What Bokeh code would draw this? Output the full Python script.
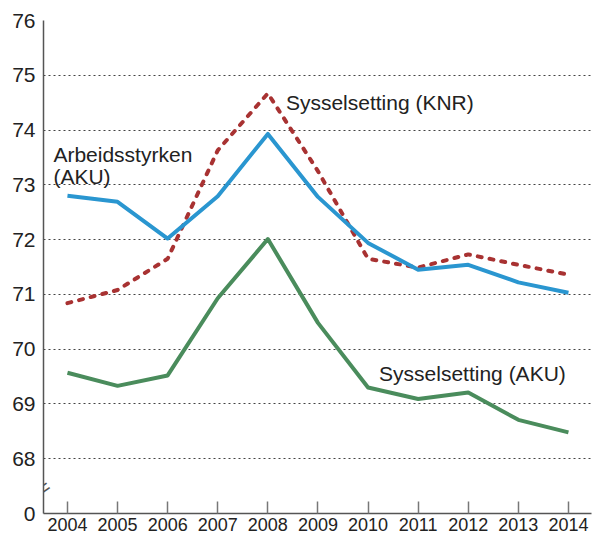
from bokeh.plotting import figure
from bokeh.models import Range1d, FixedTicker, Label
from bokeh.embed import file_html
from bokeh.resources import INLINE

years = [2004, 2005, 2006, 2007, 2008, 2009, 2010, 2011, 2012, 2013, 2014]
arbeidsstyrken_aku = [72.80, 72.69, 72.02, 72.79, 73.93, 72.78, 71.94, 71.45, 71.54, 71.22, 71.03]
sysselsetting_knr = [70.84, 71.08, 71.65, 73.63, 74.67, 73.25, 71.65, 71.49, 71.73, 71.54, 71.36]
sysselsetting_aku = [69.57, 69.33, 69.52, 70.93, 72.01, 70.48, 69.30, 69.09, 69.21, 68.71, 68.48]
y_ticks = [67, 68, 69, 70, 71, 72, 73, 74, 75, 76]
y_tick_labels = {67: "0"}

FONT = "Liberation Sans"
TXT = "#222222"

p = figure(width=592, height=542, output_backend="svg", toolbar_location=None,
           x_range=Range1d(2003.522, 2014.46), y_range=Range1d(67, 76),
           min_border_left=43, min_border_right=1, min_border_top=20, min_border_bottom=29)
p.outline_line_color = None
p.background_fill_color = "white"
p.border_fill_color = "white"

# axes
p.xaxis.ticker = FixedTicker(ticks=years)
p.xaxis.major_tick_in = 12
p.xaxis.major_tick_out = 0
p.xaxis.minor_tick_line_color = None
p.xaxis.major_tick_line_color = "#777777"
p.xaxis.major_tick_line_width = 1.5
p.xaxis.axis_line_color = "#555555"
p.xaxis.axis_line_width = 1.5
p.xaxis.major_label_text_font = FONT
p.xaxis.major_label_text_font_size = "18px"
p.xaxis.major_label_text_color = TXT
p.xaxis.major_label_standoff = 4

p.yaxis.ticker = FixedTicker(ticks=y_ticks)
p.yaxis.major_label_overrides = y_tick_labels
p.yaxis.major_tick_in = 0
p.yaxis.major_tick_out = 0
p.yaxis.minor_tick_line_color = None
p.yaxis.axis_line_color = "#555555"
p.yaxis.axis_line_width = 1.5
p.yaxis.major_label_text_font = FONT
p.yaxis.major_label_text_font_size = "21px"
p.yaxis.major_label_text_color = TXT
p.yaxis.major_label_standoff = 8

p.xgrid.grid_line_color = None
p.ygrid.ticker = FixedTicker(ticks=y_ticks[1:])
p.ygrid.grid_line_color = "#444444"
p.ygrid.grid_line_dash = "2 3"
p.ygrid.grid_line_width = 1

# series
p.line(years, sysselsetting_knr, line_color="#a83232", line_width=4, line_dash="4 8",
       line_join="round", line_cap="round")
p.line(years, arbeidsstyrken_aku, line_color="#2a96d0", line_width=4, line_join="round")
p.line(years, sysselsetting_aku, line_color="#4a8c5c", line_width=4, line_join="round")

# axis break marker
p.add_layout(Label(x=2003.522, y=67.46, text="=", angle=0.6, text_align="center",
                   text_baseline="middle", text_font=FONT, text_font_size="22px",
                   text_color="#555555"))

# series labels
for txt, x, y in [("Sysselsetting (KNR)", 2008.36, 74.51),
                  ("Arbeidsstyrken", 2003.72, 73.55),
                  ("(AKU)", 2003.72, 73.15),
                  ("Sysselsetting (AKU)", 2010.22, 69.55)]:
    p.add_layout(Label(x=x, y=y, text=txt, text_font=FONT, text_font_size="21px",
                       text_color=TXT, text_baseline="alphabetic", text_align="left"))

open("out.html", "w").write(file_html(p, INLINE))
